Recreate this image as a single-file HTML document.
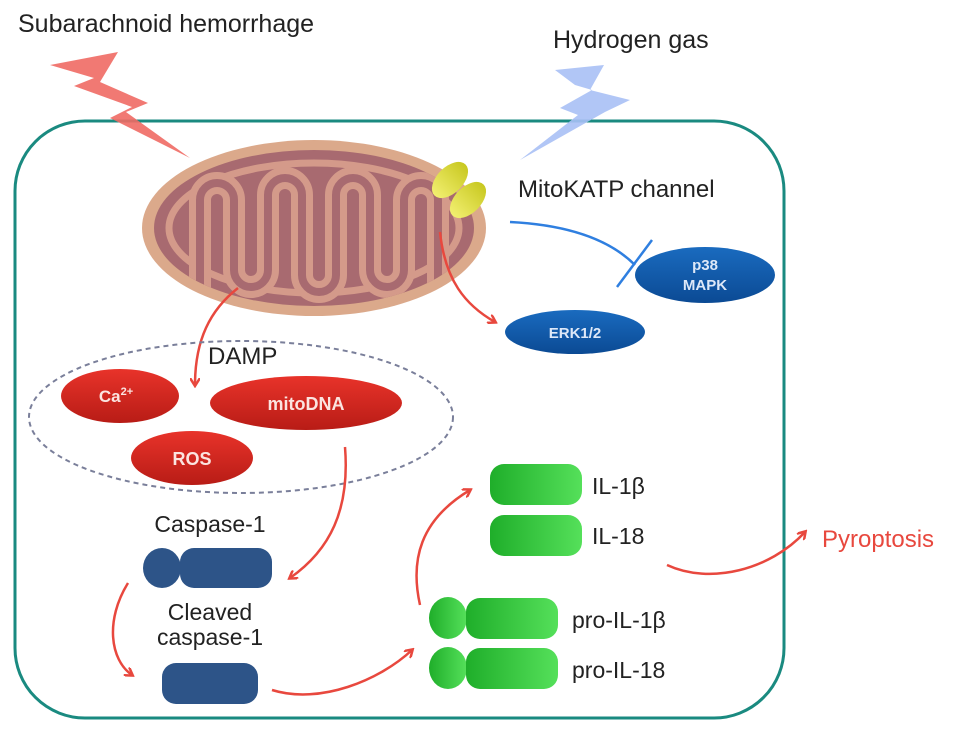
<!DOCTYPE html>
<html><head><meta charset="utf-8"><style>
html,body{margin:0;padding:0;background:#fff;}
svg{display:block;font-family:"Liberation Sans",sans-serif;}
</style></head><body>
<svg width="969" height="733" viewBox="0 0 969 733" xmlns="http://www.w3.org/2000/svg">
<defs>
<marker id="ar" markerWidth="10" markerHeight="10" refX="7" refY="5" orient="auto" markerUnits="userSpaceOnUse"><path d="M0,0 L8,5 L0,10" fill="none" stroke="#e8483e" stroke-width="2.5"/></marker>
<linearGradient id="gr" x1="0" x2="1"><stop offset="0" stop-color="#1fae2a"/><stop offset="1" stop-color="#55e05a"/></linearGradient>
<linearGradient id="rd" x1="0" y1="0" x2="0" y2="1"><stop offset="0" stop-color="#e8332a"/><stop offset="1" stop-color="#b81c16"/></linearGradient>
<linearGradient id="bl" x1="0" y1="0" x2="0" y2="1"><stop offset="0" stop-color="#1a6bbf"/><stop offset="1" stop-color="#0b4a94"/></linearGradient>
<linearGradient id="yl" x1="0" x2="1"><stop offset="0" stop-color="#f2ef70"/><stop offset="1" stop-color="#c8c820"/></linearGradient>
<clipPath id="mc"><ellipse cx="314" cy="228" rx="160" ry="78"/></clipPath>
</defs>
<text x="18" y="32" font-size="25" fill="#222">Subarachnoid hemorrhage</text>
<text x="553" y="48" font-size="25" fill="#222">Hydrogen gas</text>
<rect x="15" y="121" width="769" height="597" rx="70" fill="none" stroke="#1a8a80" stroke-width="3"/>
<polygon points="50,65 118,52 100,82 148,103 126,112 190,158 110,118 132,107 74,86 94,78" fill="#f06a64" opacity="0.9"/>
<polygon points="555,70 604,65 590,90 630,100 605,112 520,160 578,115 560,108 592,90 575,85" fill="#a9c0f5" opacity="0.9"/>
<!-- mitochondrion -->
<ellipse cx="314" cy="228" rx="172" ry="88" fill="#dba98b"/>
<ellipse cx="314" cy="228" rx="160" ry="78" fill="#a86a70"/>
<g clip-path="url(#mc)">
<ellipse cx="314" cy="228" rx="145" ry="65" fill="none" stroke="#d49a8a" stroke-width="7"/>
<path d="M200,300 V200 A17,17 0 0 1 234,200 V270 A17,17 0 0 0 268,270 V195 A17,17 0 0 1 302,195 V275 A17,17 0 0 0 336,275 V195 A17,17 0 0 1 370,195 V270 A17,17 0 0 0 404,270 V200 A17,17 0 0 1 438,200 V300" fill="none" stroke="#d49a8a" stroke-width="22"/>
<path d="M200,300 V200 A17,17 0 0 1 234,200 V270 A17,17 0 0 0 268,270 V195 A17,17 0 0 1 302,195 V275 A17,17 0 0 0 336,275 V195 A17,17 0 0 1 370,195 V270 A17,17 0 0 0 404,270 V200 A17,17 0 0 1 438,200 V300" fill="none" stroke="#a86a70" stroke-width="8"/>
</g>
<!-- channel -->
<ellipse cx="450" cy="180" rx="22" ry="13" transform="rotate(-45 450 180)" fill="url(#yl)"/>
<ellipse cx="468" cy="200" rx="22" ry="13" transform="rotate(-45 468 200)" fill="url(#yl)"/>
<text x="518" y="197" font-size="24" fill="#222">MitoKATP channel</text>
<!-- inhibition -->
<path d="M510,222 C570,225 610,240 635,265" fill="none" stroke="#2f7fe0" stroke-width="2.5"/>
<line x1="617" y1="287" x2="652" y2="240" stroke="#2f7fe0" stroke-width="2.5"/>
<ellipse cx="705" cy="275" rx="70" ry="28" fill="url(#bl)"/>
<text x="705" y="270" font-size="15" font-weight="bold" fill="#dde8f8" text-anchor="middle">p38</text>
<text x="705" y="290" font-size="15" font-weight="bold" fill="#dde8f8" text-anchor="middle">MAPK</text>
<ellipse cx="575" cy="332" rx="70" ry="22" fill="url(#bl)"/>
<text x="575" y="338" font-size="15" font-weight="bold" fill="#dde8f8" text-anchor="middle">ERK1/2</text>
<path d="M440,232 C445,280 465,305 495,322" fill="none" stroke="#e8483e" stroke-width="2.5" marker-end="url(#ar)"/>
<!-- DAMP -->
<path d="M238,288 C210,310 195,340 195,385" fill="none" stroke="#e8483e" stroke-width="2.5" marker-end="url(#ar)"/>
<ellipse cx="241" cy="417" rx="212" ry="76" fill="none" stroke="#7a7f9a" stroke-width="2" stroke-dasharray="5,4"/>
<text x="208" y="364" font-size="24" fill="#222">DAMP</text>
<ellipse cx="120" cy="396" rx="59" ry="27" fill="url(#rd)"/>
<text x="116" y="402" font-size="17" font-weight="bold" fill="#fbe4e0" text-anchor="middle">Ca<tspan font-size="11" dy="-7">2+</tspan></text>
<ellipse cx="306" cy="403" rx="96" ry="27" fill="url(#rd)"/>
<text x="306" y="410" font-size="18" font-weight="bold" fill="#fbe4e0" text-anchor="middle">mitoDNA</text>
<ellipse cx="192" cy="458" rx="61" ry="27" fill="url(#rd)"/>
<text x="192" y="465" font-size="18" font-weight="bold" fill="#fbe4e0" text-anchor="middle">ROS</text>
<!-- caspase -->
<text x="210" y="532" font-size="23" fill="#222" text-anchor="middle">Caspase-1</text>
<path d="M345,447 C350,510 330,550 290,578" fill="none" stroke="#e8483e" stroke-width="2.5" marker-end="url(#ar)"/>
<ellipse cx="162" cy="568" rx="19" ry="20" fill="#2d5488"/>
<rect x="180" y="548" width="92" height="40" rx="14" fill="#2d5488"/>
<text x="210" y="620" font-size="23" fill="#222" text-anchor="middle">Cleaved</text>
<text x="210" y="645" font-size="23" fill="#222" text-anchor="middle">caspase-1</text>
<path d="M128,583 C105,620 110,660 132,675" fill="none" stroke="#e8483e" stroke-width="2.5" marker-end="url(#ar)"/>
<rect x="162" y="663" width="96" height="41" rx="14" fill="#2d5488"/>
<path d="M272,690 C320,705 380,680 412,650" fill="none" stroke="#e8483e" stroke-width="2.5" marker-end="url(#ar)"/>
<!-- pro IL -->
<ellipse cx="448" cy="618" rx="19" ry="21" fill="url(#gr)"/>
<rect x="466" y="598" width="92" height="41" rx="14" fill="url(#gr)"/>
<ellipse cx="448" cy="668" rx="19" ry="21" fill="url(#gr)"/>
<rect x="466" y="648" width="92" height="41" rx="14" fill="url(#gr)"/>
<text x="572" y="628" font-size="23" fill="#222">pro-IL-1β</text>
<text x="572" y="678" font-size="23" fill="#222">pro-IL-18</text>
<path d="M420,605 C410,560 420,520 470,490" fill="none" stroke="#e8483e" stroke-width="2.5" marker-end="url(#ar)"/>
<rect x="490" y="464" width="92" height="41" rx="14" fill="url(#gr)"/>
<rect x="490" y="515" width="92" height="41" rx="14" fill="url(#gr)"/>
<text x="592" y="494" font-size="23" fill="#222">IL-1β</text>
<text x="592" y="544" font-size="23" fill="#222">IL-18</text>
<path d="M667,565 C710,585 770,570 805,532" fill="none" stroke="#e8483e" stroke-width="2.5" marker-end="url(#ar)"/>
<text x="822" y="547" font-size="24" fill="#e8483e">Pyroptosis</text>
</svg>
</body></html>
